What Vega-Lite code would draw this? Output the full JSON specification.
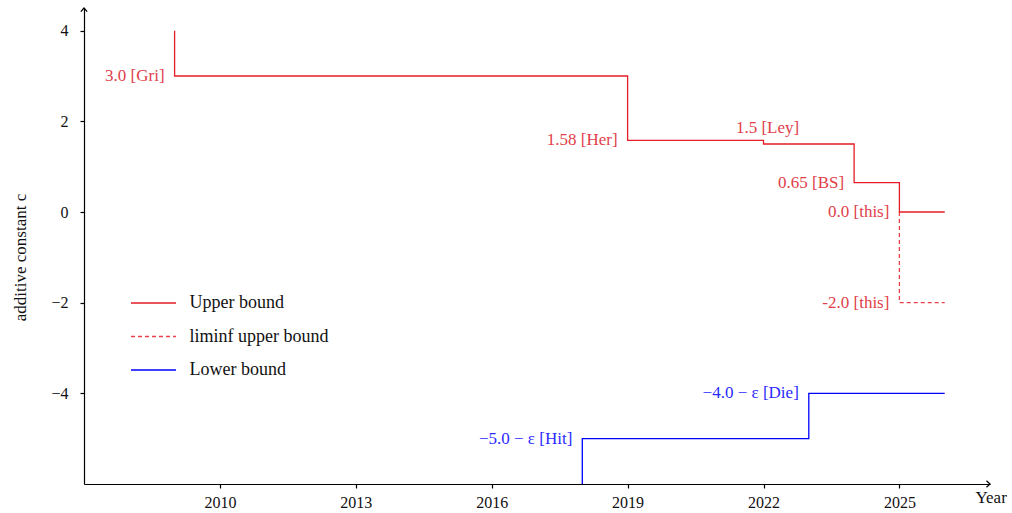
{
  "$schema": "https://vega.github.io/schema/vega-lite/v6.json",
  "width": 906,
  "height": 476,
  "autosize": {"type": "none"},
  "padding": {"left": 84, "top": 8, "right": 22, "bottom": 29},
  "config": {
    "view": {"stroke": null},
    "font": "Liberation Serif",
    "axis": {
      "grid": false,
      "domainColor": "#000000",
      "domainWidth": 1.2,
      "tickColor": "#000000",
      "tickWidth": 1.2,
      "tickSize": 4,
      "labelFont": "Liberation Serif",
      "labelFontSize": 16,
      "labelColor": "#111111",
      "titleFont": "Liberation Serif",
      "titleFontSize": 17,
      "titleFontWeight": "normal",
      "titleColor": "#111111"
    },
    "legend": {
      "orient": "none",
      "legendX": 59.5,
      "legendY": 285,
      "padding": 0,
      "symbolType": "M-2.5,0H2.5",
      "symbolSize": 324,
      "symbolStrokeWidth": 1.3,
      "labelFont": "Liberation Serif",
      "labelFontSize": 18,
      "labelColor": "#111111",
      "labelOffset": 26,
      "rowPadding": 14.5
    }
  },
  "datasets": {
    "lines": [
      {"series": "Upper bound", "order": 1, "x": 2009, "y": 4},
      {"series": "Upper bound", "order": 2, "x": 2009, "y": 3},
      {"series": "Upper bound", "order": 3, "x": 2019, "y": 3},
      {"series": "Upper bound", "order": 4, "x": 2019, "y": 1.58},
      {"series": "Upper bound", "order": 5, "x": 2022, "y": 1.58},
      {"series": "Upper bound", "order": 6, "x": 2022, "y": 1.5},
      {"series": "Upper bound", "order": 7, "x": 2024, "y": 1.5},
      {"series": "Upper bound", "order": 8, "x": 2024, "y": 0.65},
      {"series": "Upper bound", "order": 9, "x": 2025, "y": 0.65},
      {"series": "Upper bound", "order": 10, "x": 2025, "y": 0},
      {"series": "Upper bound", "order": 11, "x": 2026, "y": 0},
      {"series": "liminf upper bound", "order": 1, "x": 2025, "y": 0},
      {"series": "liminf upper bound", "order": 2, "x": 2025, "y": -2},
      {"series": "liminf upper bound", "order": 3, "x": 2026, "y": -2},
      {"series": "Lower bound", "order": 1, "x": 2018, "y": -6},
      {"series": "Lower bound", "order": 2, "x": 2018, "y": -5},
      {"series": "Lower bound", "order": 3, "x": 2023, "y": -5},
      {"series": "Lower bound", "order": 4, "x": 2023, "y": -4},
      {"series": "Lower bound", "order": 5, "x": 2026, "y": -4}
    ],
    "redLabels": [
      {"x": 2009, "y": 3, "label": "3.0 [Gri]"},
      {"x": 2019, "y": 1.58, "label": "1.58 [Her]"},
      {"x": 2024, "y": 0.65, "label": "0.65 [BS]"},
      {"x": 2025, "y": 0, "label": "0.0 [this]"},
      {"x": 2025, "y": -2, "label": "-2.0 [this]"}
    ],
    "leyLabel": [
      {"x": 2022, "y": 1.5, "label": "1.5 [Ley]"}
    ],
    "blueLabels": [
      {"x": 2018, "y": -5, "label": "−5.0 − ε [Hit]"},
      {"x": 2023, "y": -4, "label": "−4.0 − ε [Die]"}
    ],
    "arrowRight": [{"x": 2027, "y": -6}],
    "arrowUp": [{"x": 2007, "y": 4.5}]
  },
  "encoding": {
    "x": {
      "field": "x",
      "type": "quantitative",
      "scale": {"domain": [2007, 2027], "nice": false, "zero": false},
      "axis": {
        "values": [2010, 2013, 2016, 2019, 2022, 2025],
        "format": "d",
        "labelPadding": 6,
        "title": "Year",
        "titleX": 891,
        "titleY": 18,
        "titleAlign": "left",
        "titleBaseline": "alphabetic"
      }
    },
    "y": {
      "field": "y",
      "type": "quantitative",
      "scale": {"domain": [-6, 4.5], "nice": false, "zero": false},
      "axis": {
        "values": [-4, -2, 0, 2, 4],
        "format": "d",
        "labelPadding": 12,
        "title": "additive constant c",
        "titleX": -59,
        "titleY": 249,
        "titleAlign": "center",
        "titleBaseline": "alphabetic"
      }
    }
  },
  "layer": [
    {
      "data": {"name": "lines"},
      "mark": {"type": "line", "strokeWidth": 1.3},
      "encoding": {
        "order": {"field": "order", "type": "quantitative"},
        "color": {
          "field": "series",
          "type": "nominal",
          "scale": {
            "domain": ["Upper bound", "liminf upper bound", "Lower bound"],
            "range": ["#e41e26", "#e8404a", "#0000ff"]
          },
          "legend": {"title": null}
        },
        "strokeDash": {
          "field": "series",
          "type": "nominal",
          "scale": {
            "domain": ["Upper bound", "liminf upper bound", "Lower bound"],
            "range": [[1, 0], [4, 3], [1, 0]]
          },
          "legend": {"title": null}
        }
      }
    },
    {
      "data": {"name": "redLabels"},
      "mark": {"type": "text", "align": "right", "baseline": "middle", "dx": -10, "fontSize": 17, "color": "#e0404a"},
      "encoding": {"text": {"field": "label"}}
    },
    {
      "data": {"name": "leyLabel"},
      "mark": {"type": "text", "align": "center", "baseline": "middle", "dx": 4, "dy": -16, "fontSize": 17, "color": "#e0404a"},
      "encoding": {"text": {"field": "label"}}
    },
    {
      "data": {"name": "blueLabels"},
      "mark": {"type": "text", "align": "right", "baseline": "middle", "dx": -10, "fontSize": 17, "color": "#2a2aff"},
      "encoding": {"text": {"field": "label"}}
    },
    {
      "data": {"name": "arrowRight"},
      "mark": {"type": "point", "shape": "M-1,-0.9L0,0L-1,0.9", "filled": false, "stroke": "#000000", "strokeWidth": 1.2, "size": 50, "opacity": 1}
    },
    {
      "data": {"name": "arrowUp"},
      "mark": {"type": "point", "shape": "M-0.9,1L0,0L0.9,1", "filled": false, "stroke": "#000000", "strokeWidth": 1.2, "size": 50, "opacity": 1}
    }
  ]
}
